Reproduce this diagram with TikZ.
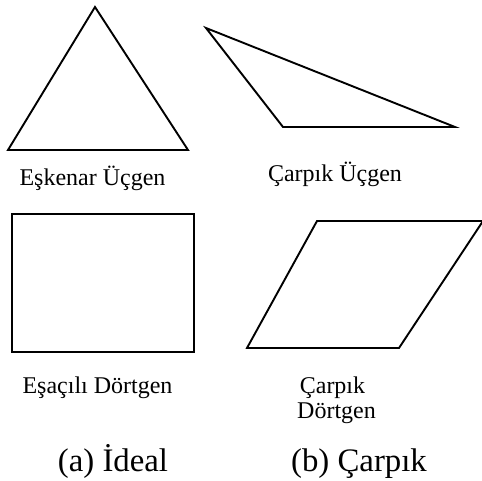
\documentclass[tikz,border=0pt]{standalone}
\usepackage{fontspec}
\setmainfont{Liberation Serif}
\begin{document}
\begin{tikzpicture}[x=1pt,y=-1pt,
  shapeline/.style={draw=black,line width=1.9pt,line join=miter},
  lbltext/.style={font=\fontsize{24}{25}\selectfont,inner sep=0pt,anchor=base},
  captext/.style={font=\fontsize{32.8}{36}\selectfont,inner sep=0pt,anchor=base}]
\useasboundingbox (0,0) rectangle (482,481);
% equilateral triangle
\coordinate (t1) at (95,7);
\coordinate (t2) at (8,150);
\coordinate (t3) at (188,150);
\draw[shapeline] (t1) -- (t2) -- (t3) -- cycle;
% skewed triangle
\coordinate (s1) at (206,28);
\coordinate (s2) at (283,127);
\coordinate (s3) at (455,127);
\draw[shapeline] (s1) -- (s2) -- (s3) -- cycle;
% rectangle
\coordinate (r1) at (12,214);
\coordinate (r2) at (194,352);
\draw[shapeline] (r1) rectangle (r2);
% skewed quadrilateral
\coordinate (p1) at (247,348);
\coordinate (p2) at (317,221);
\coordinate (p3) at (483,221);
\coordinate (p4) at (399,348);
\draw[shapeline] (p1) -- (p2) -- (p3) -- (p4) -- cycle;
% labels
\node[lbltext] (l1) at (92.5,186) {Eşkenar Üçgen};
\node[lbltext] (l2) at (335,182) {Çarpık Üçgen};
\node[lbltext] (l3) at (97.5,393) {Eşaçılı Dörtgen};
\node[lbltext] (l4a) at (332.5,393) {Çarpık};
\node[lbltext] (l4b) at (336.5,418) {Dörtgen};
% captions
\node[captext] (ca) at (113,471) {(a) İdeal};
\node[captext] (cb) at (359,471) {(b) Çarpık};
\end{tikzpicture}
\end{document}
